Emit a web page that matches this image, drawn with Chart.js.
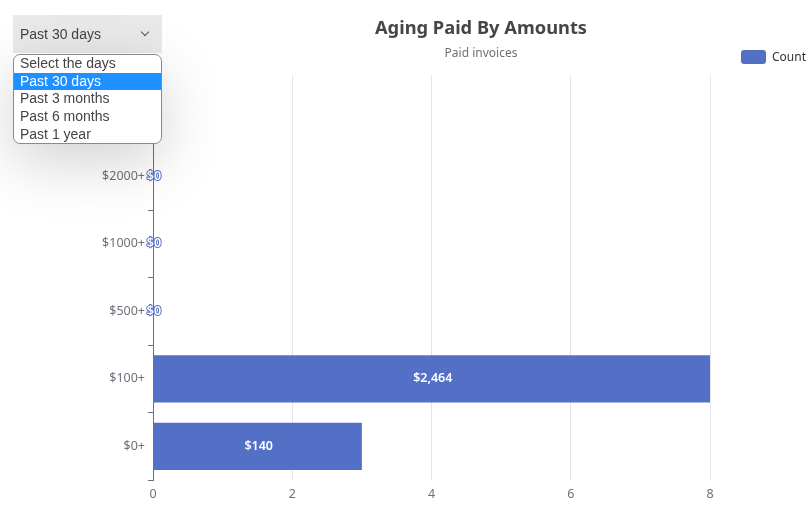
<!DOCTYPE html>
<html>
<head>
<meta charset="utf-8">
<script src="https://cdn.jsdelivr.net/npm/chart.js@4"></script>
<style>
  body { margin: 0; background: #fff; }
  #wrap { position: relative; width: 810px; height: 512px; overflow: hidden; }
  #wrap canvas { position: absolute; left: 0; top: 0; }
  .title { position: absolute; left: 281px; width: 400px; text-align: center; font-family: 'Noto Sans', sans-serif; }
  #chartTitle { top: 14px; font-size: 18.3px; font-weight: bold; color: #464646; }
  #chartSub { top: 44px; font-size: 12px; color: #6E7079; }
  #legend { position: absolute; left: 741px; top: 48px; font: 12px 'Noto Sans', sans-serif; color: #333; display: flex; align-items: center; }
  #legend span.box { width: 25px; height: 14px; border-radius: 3px; background: #5470C6; margin-right: 6px; }
  #select { position: absolute; left: 13px; top: 15px; width: 149px; height: 38px; background: #e9e9e9; font: 14px 'Liberation Sans', Arial, sans-serif; color: #444; }
  #select .txt { position: absolute; left: 7px; top: 11px; }
  #select .chev { position: absolute; left: 129px; top: 14px; width: 5px; height: 5px; border-right: 1.3px solid #555; border-bottom: 1.3px solid #555; transform: rotate(45deg); }
  #list { position: absolute; left: 13px; top: 54px; width: 147px; height: 88px; background: #fff; border: 1px solid #8a8a8a; border-radius: 7px; overflow: hidden; font: 14px 'Liberation Sans', Arial, sans-serif; color: #444; box-shadow: 0 18px 60px rgba(0,0,0,0.18); }
  #list div { height: 17.7px; line-height: 16px; padding-left: 6px; }
  #list div.sel { background: #1e90ff; color: #fff; }
</style>
</head>
<body>
<div id="wrap">
  <canvas id="agingChart" width="810" height="512"></canvas>
  <div class="title" id="chartTitle">Aging Paid By Amounts</div>
  <div class="title" id="chartSub">Paid invoices</div>
  <div id="legend"><span class="box"></span>Count</div>
  <div id="select"><span class="txt">Past 30 days</span><span class="chev"></span></div>
  <div id="list"></div>
</div>
<script>
// Data
const categories = ['$0+', '$100+', '$500+', '$1000+', '$2000+', '$5000+'];
const counts = [3, 8, 0, 0, 0, 0];
const amounts = [140, 2464, 0, 0, 0, 0];
const xTicks = [0, 2, 4, 6, 8];
const rangeOptions = ['Select the days', 'Past 30 days', 'Past 3 months', 'Past 6 months', 'Past 1 year'];
const selectedRange = 'Past 30 days';

const barColor = '#5470C6';
const axisColor = '#6E7079';

// dropdown list
const list = document.getElementById('list');
rangeOptions.forEach(opt => {
    const d = document.createElement('div');
    d.innerText = opt;
    if (opt === selectedRange) d.className = 'sel';
    list.appendChild(d);
});

// amount labels drawn on the bars, ECharts-like (white text, bar-coloured outline)
const amountLabels = {
    id: 'amountLabels',
    afterDatasetsDraw(chart) {
        const ctx = chart.ctx;
        const meta = chart.getDatasetMeta(0);
        ctx.save();
        ctx.font = "600 12.5px 'Noto Sans', sans-serif";
        ctx.textAlign = 'center';
        ctx.textBaseline = 'middle';
        ctx.lineJoin = 'round';
        meta.data.forEach((bar, i) => {
            const x = (bar.x + bar.base) / 2 + 1;
            const text = '$' + amounts[i].toLocaleString('en-US');
            ctx.strokeStyle = barColor;
            ctx.lineWidth = 2;
            ctx.strokeText(text, x, bar.y);
            ctx.fillStyle = '#fff';
            ctx.fillText(text, x, bar.y);
        });
        ctx.restore();
    }
};

new Chart(document.getElementById('agingChart').getContext('2d'), {
    type: 'bar',
    data: {
        labels: categories,
        datasets: [{
            label: 'Count',
            data: counts,
            backgroundColor: barColor,
            barPercentage: 0.7,
            categoryPercentage: 1
        }]
    },
    plugins: [amountLabels],
    options: {
        indexAxis: 'y',
        responsive: false,
        animation: false,
        layout: { padding: { top: 75, right: 100, left: 0, bottom: 0 } },
        plugins: {
            legend: { display: false },
            title: { display: false },
            tooltip: { enabled: false }
        },
        scales: {
            x: {
                min: xTicks[0],
                max: xTicks[xTicks.length - 1],
                afterBuildTicks: scale => { scale.ticks = xTicks.map(v => ({ value: v })); },
                afterFit: scale => { scale.height = 32; },
                border: { display: false },
                grid: { color: '#E0E6F1', drawTicks: false },
                ticks: { color: axisColor, padding: 7, font: { size: 12.5, family: "'Noto Sans', sans-serif" } }
            },
            y: {
                reverse: true,
                afterFit: scale => { scale.width = 153; },
                border: { display: true, color: axisColor, width: 1 },
                grid: { offset: true, drawOnChartArea: false, drawTicks: true, tickLength: 5, color: axisColor },
                ticks: { color: axisColor, padding: 3, font: { size: 12.5, family: "'Noto Sans', sans-serif" } }
            }
        }
    }
});
</script>
</body>
</html>
